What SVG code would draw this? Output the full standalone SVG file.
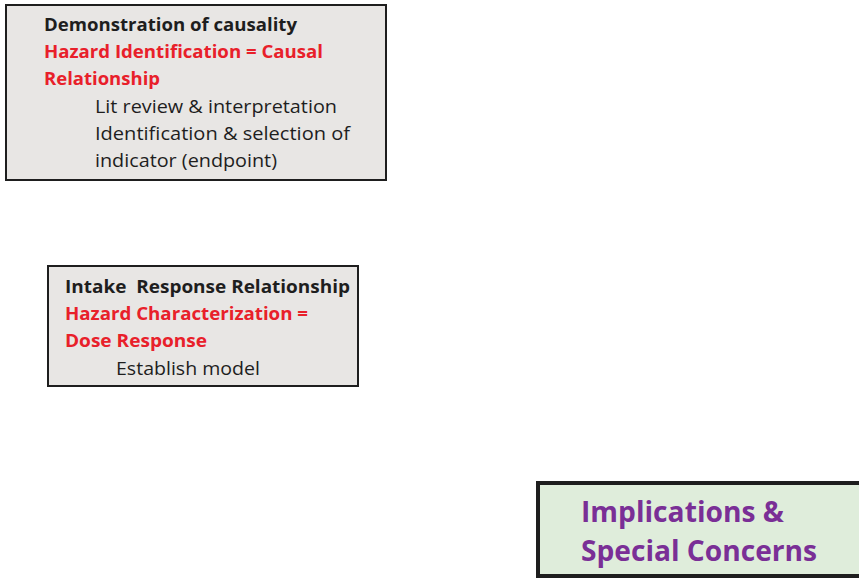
<svg xmlns="http://www.w3.org/2000/svg" width="859" height="578" viewBox="0 0 859 578">
<style>
.box{fill:#e8e6e4;stroke:#1e1e1e;stroke-width:2}
.g{fill:#dfeddb;stroke:#1e1e1e;stroke-width:4}
text{font-family:"Open Sans","Liberation Sans",sans-serif;font-size:18.5px}
.b{font-weight:bold;fill:#1e1e1e}
.r{font-weight:bold;fill:#e8202a}
.n{fill:#1e1e1e}
.p{font-weight:bold;fill:#7a2f96;font-size:28.5px}
</style>
<rect width="859" height="578" fill="#ffffff"/>
<g id="node-causality">
<rect class="box" x="6" y="5" width="380" height="175"/>
<text class="b" x="44" y="31" textLength="253" lengthAdjust="spacingAndGlyphs">Demonstration of causality</text>
<text class="r" x="44" y="58" textLength="279" lengthAdjust="spacingAndGlyphs">Hazard Identification = Causal</text>
<text class="r" x="44" y="85" textLength="116" lengthAdjust="spacingAndGlyphs">Relationship</text>
<text class="n" x="95" y="113" textLength="242" lengthAdjust="spacingAndGlyphs">Lit review &amp; interpretation</text>
<text class="n" x="95" y="140" textLength="255" lengthAdjust="spacingAndGlyphs">Identification &amp; selection of</text>
<text class="n" x="95" y="167" textLength="182" lengthAdjust="spacingAndGlyphs">indicator (endpoint)</text>
</g>
<g id="node-dose-response">
<rect class="box" x="48" y="266" width="310" height="120"/>
<text class="b" x="65" y="293" textLength="285" lengthAdjust="spacingAndGlyphs" xml:space="preserve">Intake  Response Relationship</text>
<text class="r" x="65" y="320" textLength="243" lengthAdjust="spacingAndGlyphs">Hazard Characterization =</text>
<text class="r" x="65" y="347" textLength="142" lengthAdjust="spacingAndGlyphs">Dose Response</text>
<text class="n" x="116" y="375" textLength="144" lengthAdjust="spacingAndGlyphs">Establish model</text>
</g>
<g id="node-implications">
<rect class="g" x="538" y="483" width="325" height="93"/>
<text class="p" x="581" y="522" textLength="203" lengthAdjust="spacingAndGlyphs">Implications &amp;</text>
<text class="p" x="581" y="561" textLength="236" lengthAdjust="spacingAndGlyphs">Special Concerns</text>
</g>
<g id="connectors"></g>
</svg>
